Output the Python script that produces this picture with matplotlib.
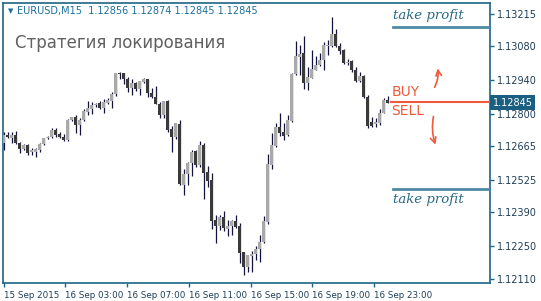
import numpy as np
import matplotlib
matplotlib.use('Agg')
import matplotlib.pyplot as plt
import matplotlib.transforms as mtransforms

# EURUSD M15 candles, 15 Sep 23:00 .. 16 Sep 23:00
opens = [1.12677, 1.12711, 1.12698, 1.12711, 1.12677, 1.12652, 1.12669, 1.12640, 1.12640, 1.12648,
         1.12673, 1.12698, 1.12702, 1.12732, 1.12715, 1.12702, 1.12690, 1.12773, 1.12786, 1.12752,
         1.12773, 1.12807, 1.12819, 1.12836, 1.12844, 1.12823, 1.12844, 1.12852, 1.12882, 1.12969,
         1.12969, 1.12944, 1.12907, 1.12927, 1.12902, 1.12932, 1.12944, 1.12886, 1.12869, 1.12840,
         1.12794, 1.12852, 1.12736, 1.12702, 1.12757, 1.12502, 1.12548, 1.12594, 1.12644, 1.12586,
         1.12669, 1.12557, 1.12523, 1.12357, 1.12332, 1.12369, 1.12319, 1.12332, 1.12352, 1.12332,
         1.12223, 1.12161, 1.12207, 1.12215, 1.12236, 1.12265, 1.12348, 1.12586, 1.12665, 1.12744,
         1.12723, 1.12711, 1.12769, 1.12965, 1.13036, 1.13052, 1.12927, 1.12948, 1.12981, 1.13002,
         1.13023, 1.13081, 1.13081, 1.13131, 1.13081, 1.13065, 1.13011, 1.13019, 1.12981, 1.12936,
         1.12957, 1.12869, 1.12765, 1.12757, 1.12761, 1.12802, 1.12856]
highs = [1.12723, 1.12723, 1.12723, 1.12727, 1.12682, 1.12673, 1.12673, 1.12657, 1.12657, 1.12677,
         1.12698, 1.12707, 1.12740, 1.12740, 1.12723, 1.12715, 1.12777, 1.12786, 1.12794, 1.12782,
         1.12819, 1.12852, 1.12848, 1.12844, 1.12852, 1.12861, 1.12865, 1.12890, 1.12969, 1.12973,
         1.12969, 1.12952, 1.12944, 1.12932, 1.12936, 1.12948, 1.12944, 1.12907, 1.12915, 1.12848,
         1.12852, 1.12857, 1.12748, 1.12761, 1.12773, 1.12569, 1.12598, 1.12648, 1.12648, 1.12686,
         1.12677, 1.12582, 1.12552, 1.12377, 1.12377, 1.12394, 1.12357, 1.12357, 1.12377, 1.12344,
         1.12223, 1.12211, 1.12228, 1.12248, 1.12294, 1.12373, 1.12632, 1.12719, 1.12761, 1.12802,
         1.12761, 1.12794, 1.12969, 1.13102, 1.13086, 1.13123, 1.12994, 1.13065, 1.13040, 1.13052,
         1.13098, 1.13106, 1.13202, 1.13152, 1.13094, 1.13069, 1.13027, 1.13023, 1.12994, 1.12973,
         1.12961, 1.12877, 1.12786, 1.12782, 1.12819, 1.12865, 1.12874]
lows = [1.12648, 1.12698, 1.12677, 1.12673, 1.12636, 1.12648, 1.12627, 1.12627, 1.12619, 1.12640,
        1.12669, 1.12694, 1.12698, 1.12702, 1.12698, 1.12686, 1.12686, 1.12769, 1.12719, 1.12711,
        1.12769, 1.12794, 1.12798, 1.12827, 1.12819, 1.12802, 1.12840, 1.12823, 1.12873, 1.12944,
        1.12923, 1.12890, 1.12877, 1.12894, 1.12877, 1.12927, 1.12869, 1.12865, 1.12840, 1.12782,
        1.12782, 1.12723, 1.12640, 1.12694, 1.12502, 1.12461, 1.12502, 1.12540, 1.12577, 1.12577,
        1.12444, 1.12494, 1.12319, 1.12261, 1.12315, 1.12311, 1.12290, 1.12294, 1.12323, 1.12178,
        1.12128, 1.12140, 1.12140, 1.12190, 1.12182, 1.12261, 1.12340, 1.12569, 1.12661, 1.12707,
        1.12690, 1.12707, 1.12765, 1.12961, 1.12961, 1.12902, 1.12898, 1.12948, 1.12981, 1.12998,
        1.12981, 1.13044, 1.13077, 1.13077, 1.13048, 1.13006, 1.13002, 1.12973, 1.12932, 1.12932,
        1.12865, 1.12740, 1.12744, 1.12744, 1.12752, 1.12802, 1.12845]
closes = [1.12711, 1.12702, 1.12711, 1.12677, 1.12652, 1.12669, 1.12636, 1.12648, 1.12652, 1.12673,
          1.12698, 1.12702, 1.12732, 1.12711, 1.12702, 1.12690, 1.12773, 1.12786, 1.12752, 1.12773,
          1.12811, 1.12823, 1.12836, 1.12840, 1.12823, 1.12848, 1.12857, 1.12882, 1.12969, 1.12965,
          1.12944, 1.12907, 1.12927, 1.12902, 1.12936, 1.12944, 1.12886, 1.12869, 1.12840, 1.12794,
          1.12852, 1.12732, 1.12702, 1.12761, 1.12507, 1.12548, 1.12594, 1.12640, 1.12586, 1.12669,
          1.12552, 1.12519, 1.12352, 1.12332, 1.12369, 1.12323, 1.12332, 1.12352, 1.12327, 1.12219,
          1.12161, 1.12211, 1.12215, 1.12236, 1.12265, 1.12352, 1.12590, 1.12669, 1.12744, 1.12719,
          1.12707, 1.12773, 1.12965, 1.13040, 1.13048, 1.12927, 1.12952, 1.12986, 1.13002, 1.13023,
          1.13086, 1.13086, 1.13131, 1.13081, 1.13061, 1.13011, 1.13015, 1.12981, 1.12936, 1.12957,
          1.12869, 1.12748, 1.12748, 1.12765, 1.12802, 1.12857, 1.12845]

time_labels = ['15 Sep 2015', '16 Sep 03:00', '16 Sep 07:00', '16 Sep 11:00',
               '16 Sep 15:00', '16 Sep 19:00', '16 Sep 23:00']
time_pos = [0, 15.4, 30.9, 46.4, 61.9, 77.1, 92.6]
price_ticks = [1.13215, 1.13080, 1.12940, 1.12800, 1.12665, 1.12525, 1.12390, 1.12250, 1.12110]

tp_up = 1.13161
tp_down = 1.12487
lock_price = 1.12850
last_price = 1.12845

frame = '#1e6585'
bull_col = '#a9a9a9'
bear_col = '#3a3a3a'
wick_col = '#12123a'
red = '#f05a3c'

fig = plt.figure(figsize=(5.41, 3.01), dpi=100)
ax = fig.add_axes([2.5/541, 18/301, 487.5/541, 280/301])

x = np.arange(len(opens))
o = np.array(opens); h = np.array(highs); l = np.array(lows); c = np.array(closes)
up = c >= o
ax.vlines(x, l, h, color=wick_col, lw=0.9, zorder=2)
body = np.abs(c - o)
body = np.maximum(body, 0.00003)
bottom = np.minimum(o, c)
ax.bar(x[up], body[up], bottom=bottom[up], width=0.72, color=bull_col, zorder=3, linewidth=0)
ax.bar(x[~up], body[~up], bottom=bottom[~up], width=0.72, color=bear_col, zorder=3, linewidth=0)

ax.set_xlim(-0.25, 121.6)
ax.set_ylim(1.12095, 1.13261)

for s in ax.spines.values():
    s.set_color(frame)
    s.set_linewidth(1.2)

ax.yaxis.tick_right()
ax.set_yticks(price_ticks)
ax.set_yticklabels(['%.5f' % p for p in price_ticks])
ax.set_xticks(time_pos)
ax.set_xticklabels(time_labels, ha='left')
ax.tick_params(axis='both', colors=frame, length=3, width=1, labelsize=7, pad=2)
ax.tick_params(axis='y', labelcolor='#1f3f5a')
ax.tick_params(axis='x', labelcolor='#1f3f5a', labelsize=6.3, pad=3)

# take profit levels
ax.axhline(tp_up, xmin=0.801, xmax=1.0, color='#4d8aa3', lw=2, zorder=4)
ax.axhline(tp_down, xmin=0.801, xmax=1.0, color='#4d8aa3', lw=2, zorder=4)
ax.text(97.4, tp_up + 0.00022, 'take profit', color='#2a6a86', fontsize=9.5,
        style='italic', family='DejaVu Serif', va='bottom', ha='left')
ax.text(97.4, tp_down - 0.00018, 'take profit', color='#2a6a86', fontsize=9.5,
        style='italic', family='DejaVu Serif', va='top', ha='left')

# lock level
ax.axhline(lock_price, xmin=0.797, xmax=1.0, color=red, lw=1.5, zorder=4)
ax.text(96.9, lock_price + 0.00010, 'BUY', color=red, fontsize=10, va='bottom', ha='left')
ax.text(96.9, lock_price - 0.00008, 'SELL', color=red, fontsize=10, va='top', ha='left')
ax.annotate('', xy=(108.4, 1.13000), xytext=(107.4, 1.12900),
            arrowprops=dict(arrowstyle='->', color=red, lw=1.2,
                            connectionstyle='arc3,rad=0.2'))
ax.annotate('', xy=(108.2, 1.12660), xytext=(107.6, 1.12800),
            arrowprops=dict(arrowstyle='->', color=red, lw=1.2,
                            connectionstyle='arc3,rad=0.15'))

# current price tag
trans = mtransforms.blended_transform_factory(ax.transAxes, ax.transData)
ax.text(1.006, last_price, '%.5f' % last_price, transform=trans, color='white',
        fontsize=7, va='center', ha='left',
        bbox=dict(boxstyle='square,pad=0.25', fc='#1b5f80', ec='none'))

fig.text(8/541, 1 - 11/301, '\u25bc', color='#1a6fa0', fontsize=5, va='center')
fig.text(17/541, 1 - 11/301, 'EURUSD,M15  1.12856 1.12874 1.12845 1.12845',
         color='#1a6fa0', fontsize=7, va='center')
fig.text(15/541, 1 - 43/301, 'Стратегия локирования', color='#606060',
         fontsize=12, va='center', family='DejaVu Sans')

fig.savefig('out.png', dpi=100)
